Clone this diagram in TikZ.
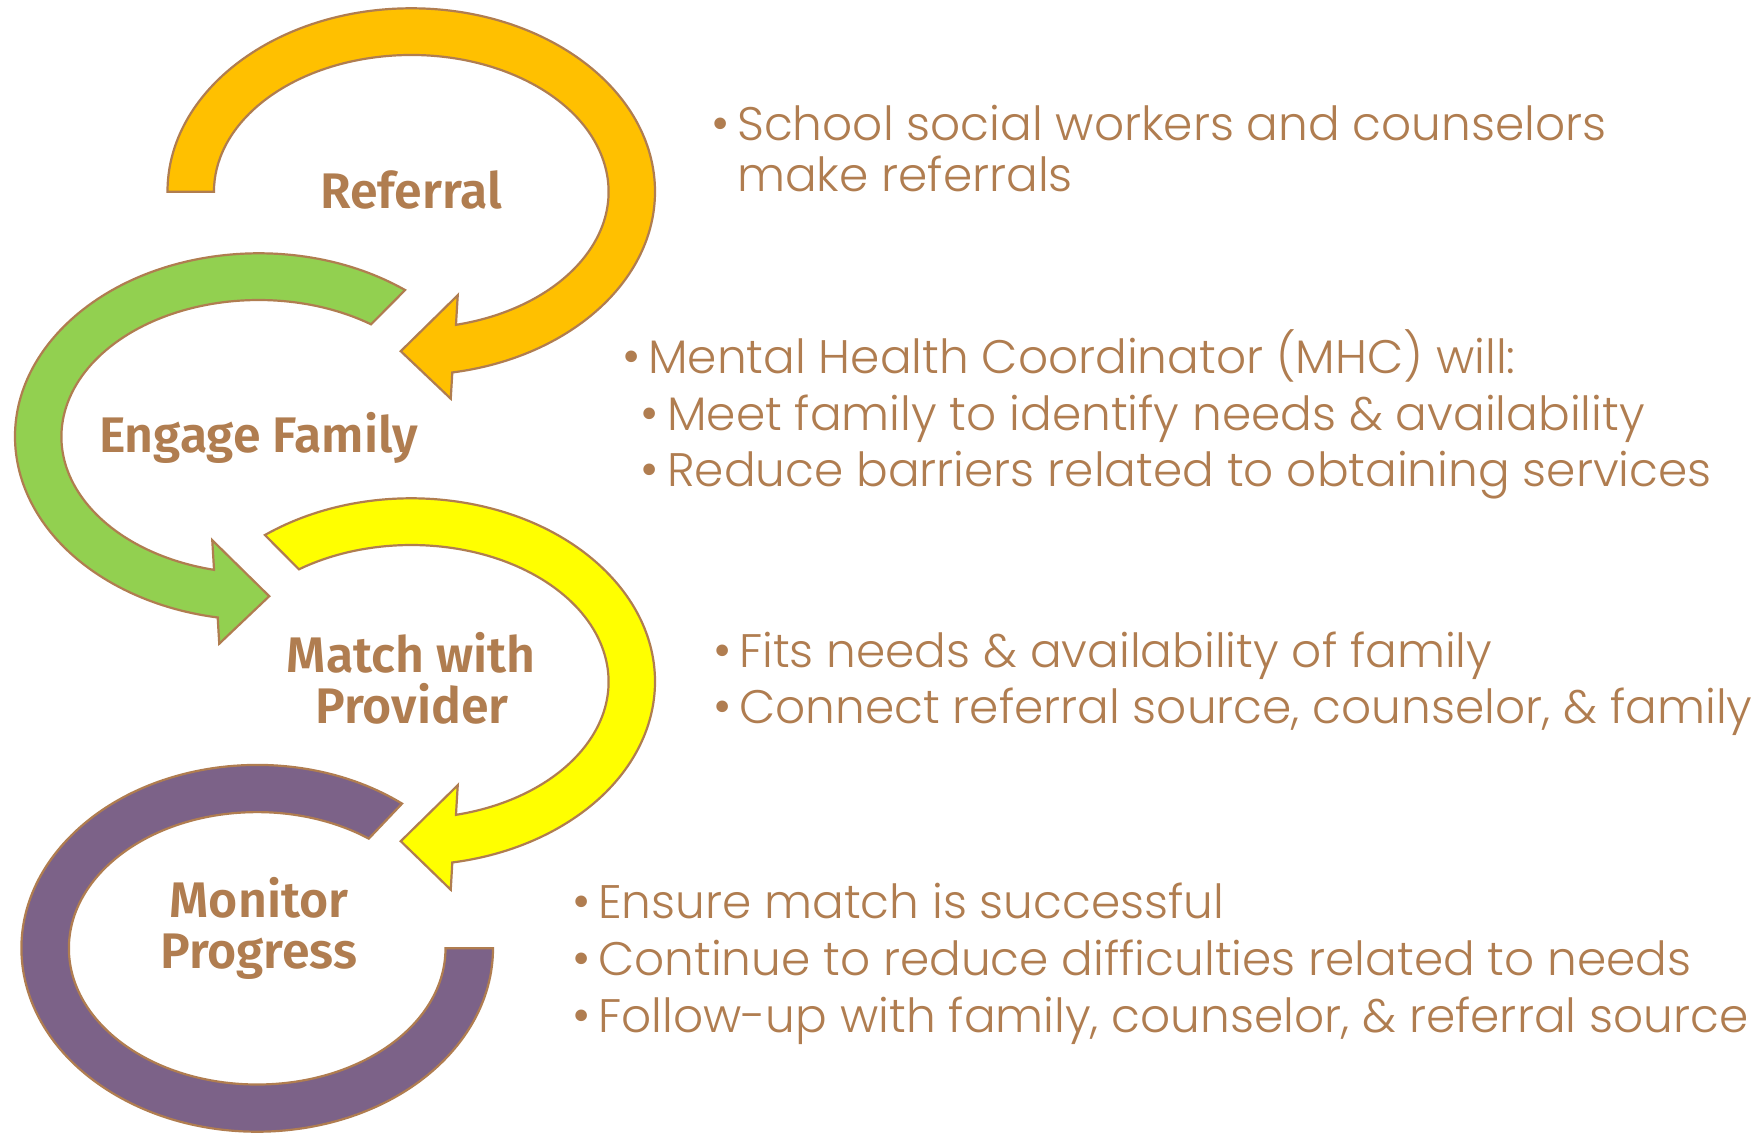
\documentclass[tikz,border=0pt]{standalone}
\usepackage{fontspec}
\IfFontExistsTF{Poppins Light}{\newfontfamily\bodyfont{Poppins Light}}{\newfontfamily\bodyfont{Poppins}}
\IfFontExistsTF{Fira Sans SemiBold}{\newfontfamily\labfont{Fira Sans SemiBold}}{\newfontfamily\labfont{Fira Sans}[UprightFont=*-Bold]}
\definecolor{brn}{RGB}{176,125,80}
\definecolor{cOrange}{RGB}{255,192,0}
\definecolor{cGreen}{RGB}{146,208,80}
\definecolor{cYellow}{RGB}{255,255,0}
\definecolor{cPurple}{RGB}{124,98,136}
\begin{document}
\begin{tikzpicture}[x=1pt,y=1pt,
  ring/.style={draw=brn, line width=2.2pt, line join=miter},
  lab/.style={text=brn, font=\labfont\fontsize{50}{50}\selectfont, inner sep=0, anchor=base},
  body/.style={text=brn, font=\bodyfont\fontsize{47}{57}\selectfont, inner sep=0, anchor=base west},
  bul/.style={text=brn, font=\bodyfont\fontsize{50}{57}\selectfont, inner sep=0, anchor=base}]
\useasboundingbox (0,0) rectangle (1763,-1135);
\fill[white] (0,0) rectangle (1763,-1135);

% Orange ring arrow (Referral)
\begin{scope}[shift={(411.25,-191.7)}]
\filldraw[ring, fill=cOrange] (180:243.75pt and 183.4pt)
  arc[start angle=180, end angle=-80.3, x radius=243.75pt, y radius=183.4pt]
  -- (39.5,-207) -- (-10.5,-159.5) -- (46.5,-103.5)
  -- (-76.9:197.3pt and 136.7pt)
  arc[start angle=-76.9, end angle=180, x radius=197.3pt, y radius=136.7pt] -- cycle;
\end{scope}

% Green ring arrow (Engage Family), mirrored
\begin{scope}[shift={(258.75,-436.7)}, xscale=-1]
\filldraw[ring, fill=cGreen] (126.9:243.75pt and 183.4pt)
  arc[start angle=126.9, end angle=-80.3, x radius=243.75pt, y radius=183.4pt]
  -- (39.5,-207) -- (-10.5,-159.5) -- (46.5,-103.5)
  -- (-76.9:197.3pt and 136.7pt)
  arc[start angle=-76.9, end angle=124.7, x radius=197.3pt, y radius=136.7pt] -- cycle;
\end{scope}

% Yellow ring arrow (Match with Provider)
\begin{scope}[shift={(411.25,-681.7)}]
\filldraw[ring, fill=cYellow] (126.9:243.75pt and 183.4pt)
  arc[start angle=126.9, end angle=-80.3, x radius=243.75pt, y radius=183.4pt]
  -- (39.5,-208) -- (-10.5,-159.5) -- (46.5,-103.5)
  -- (-76.9:197.3pt and 136.7pt)
  arc[start angle=-76.9, end angle=124.7, x radius=197.3pt, y radius=136.7pt] -- cycle;
\end{scope}

% Purple ring (Monitor Progress)
\begin{scope}[shift={(257.2,-948.3)}]
\filldraw[ring, fill=cPurple] (52.1:235.8pt and 183.4pt)
  arc[start angle=52.1, end angle=360, x radius=235.8pt, y radius=183.4pt]
  -- (0:188.3pt and 136.2pt)
  arc[start angle=360, end angle=53.65, x radius=188.3pt, y radius=136.2pt] -- cycle;
\end{scope}

% Labels
\node[lab] (lref) at (411,-208.3) {Referral};
\node[lab] (leng) at (258.5,-452.7) {Engage Family};
\node[lab] (lmat1) at (411.3,-672.7) {Match with};
\node[lab] (lmat2) at (412,-723.3) {Provider};
\node[lab] (lmon1) at (259,-917.7) {Monitor};
\node[lab] (lmon2) at (258.7,-968.3) {Progress};

% Block 1
\node[bul] (b1) at (721,-140) {•};
\node[body] (t1a) at (737,-140) {School social workers and counselors};
\node[body] (t1b) at (737,-191.7) {make referrals};

% Block 2
\node[bul] (b2) at (632,-373.3) {•};
\node[body] (t2a) at (648,-373.3) {Mental Health Coordinator (MHC) will:};
\node[bul] (b2b) at (650,-430) {•};
\node[body] (t2b) at (667,-430) {Meet family to identify needs \& availability};
\node[bul] (b2c) at (650,-486.7) {•};
\node[body] (t2c) at (667,-486.7) {Reduce barriers related to obtaining services};

% Block 3
\node[bul] (b3a) at (723,-667.3) {•};
\node[body] (t3a) at (739,-667.3) {Fits needs \& availability of family};
\node[bul] (b3b) at (723,-723.3) {•};
\node[body] (t3b) at (739,-723.3) {Connect referral source, counselor, \& family};

% Block 4
\node[bul] (b4a) at (582,-918.3) {•};
\node[body] (t4a) at (598,-918.3) {Ensure match is successful};
\node[bul] (b4b) at (582,-975) {•};
\node[body] (t4b) at (598,-975) {Continue to reduce difficulties related to needs};
\node[bul] (b4c) at (582,-1032.7) {•};
\node[body] (t4c) at (598,-1032.7) {Follow-up with family, counselor, \& referral source};
\end{tikzpicture}
\end{document}
